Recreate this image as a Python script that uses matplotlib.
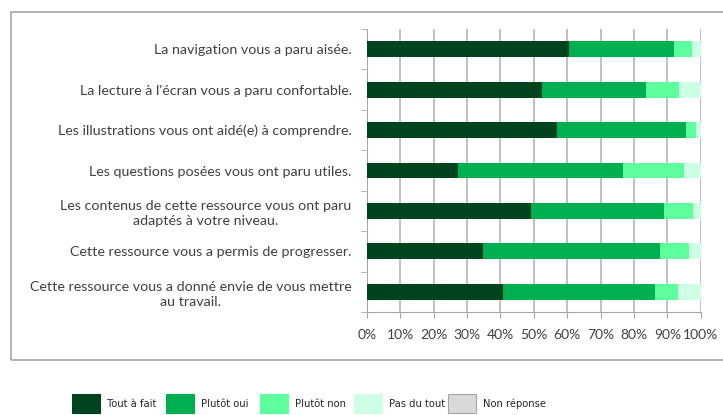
import numpy as np
import matplotlib
matplotlib.use('Agg')
import matplotlib.pyplot as plt
from matplotlib.patches import Rectangle

questions = [
    "La navigation vous a paru aisée.",
    "La lecture à l'écran vous a paru confortable.",
    "Les illustrations vous ont aidé(e) à comprendre.",
    "Les questions posées vous ont paru utiles.",
    "Les contenus de cette ressource vous ont paru\nadaptés à votre niveau.",
    "Cette ressource vous a permis de progresser.",
    "Cette ressource vous a donné envie de vous mettre\nau travail.",
]
categories = ["Tout à fait", "Plutôt oui", "Plutôt non", "Pas du tout", "Non réponse"]
tout_a_fait = [60.4, 52.5, 56.9, 27.2, 49.1, 34.8, 40.8]
plutot_oui = [31.7, 31.0, 38.7, 49.4, 39.9, 52.9, 45.4]
plutot_non = [5.2, 10.0, 3.0, 18.4, 8.8, 8.7, 7.0]
pas_du_tout = [2.7, 6.5, 1.4, 5.0, 2.2, 3.6, 6.8]
non_reponse = [0, 0, 0, 0, 0, 0, 0]
colors = ["#00441f", "#00b050", "#5cff9c", "#ccffe4", "#d9d9d9"]

series = [tout_a_fait, plutot_oui, plutot_non, pas_du_tout, non_reponse]

plt.rcParams['font.family'] = ['Lato', 'DejaVu Sans']
text_col = '#404040'

fig = plt.figure(figsize=(7.23, 4.15), dpi=100)
W, H = 723, 415

# outer chart frame
fig.patches.append(Rectangle((11 / W, 1 - 360 / H), 720 / W, 348 / H,
                             transform=fig.transFigure, fill=False,
                             edgecolor='#a6a6a6', linewidth=1.2))

ax = fig.add_axes([367 / W, 1 - 312 / H, (700.7 - 367) / W, (312 - 29) / H])
y = np.arange(len(questions))
left = np.zeros(len(questions))
for vals, col in zip(series, colors):
    ax.barh(y, vals, left=left, height=0.39, color=col, zorder=3)
    left += np.array(vals)

ax.set_xlim(0, 100)
ax.set_ylim(len(questions) - 0.5, -0.5)
ax.set_xticks(np.arange(0, 101, 10))
ax.set_xticklabels([f"{v}%" for v in range(0, 101, 10)], color=text_col, fontsize=10)
ax.set_yticks(y)
ax.set_yticklabels(questions, color=text_col, fontsize=10.3,
                   multialignment='center', linespacing=1.35)
ax.set_yticks(np.arange(-0.5, len(questions)), minor=True)
ax.tick_params(axis='y', which='major', length=0, pad=11)
ax.tick_params(axis='y', which='minor', length=4, color='#a6a6a6', direction='out')
ax.tick_params(axis='x', length=4, color='#a6a6a6', pad=8)
ax.grid(axis='x', color='#c0c0c0', linewidth=1.4, zorder=0)
for side in ['top', 'right']:
    ax.spines[side].set_visible(False)
for side in ['left', 'bottom']:
    ax.spines[side].set_color('#a6a6a6')

# legend below the frame
x0 = 72
for i, (name, col) in enumerate(zip(categories, colors)):
    xs = x0 + i * 94
    fig.patches.append(Rectangle((xs / W, 1 - 413 / H), 28 / W, 19 / H,
                                 transform=fig.transFigure, facecolor=col,
                                 edgecolor='#a6a6a6' if i == 4 else col, linewidth=0.8))
    fig.text((xs + 35) / W, 1 - 404 / H, name, fontsize=8, color='#262626',
             va='center', ha='left', family='DejaVu Sans', fontstretch='condensed')

fig.savefig('out.png', dpi=100)
